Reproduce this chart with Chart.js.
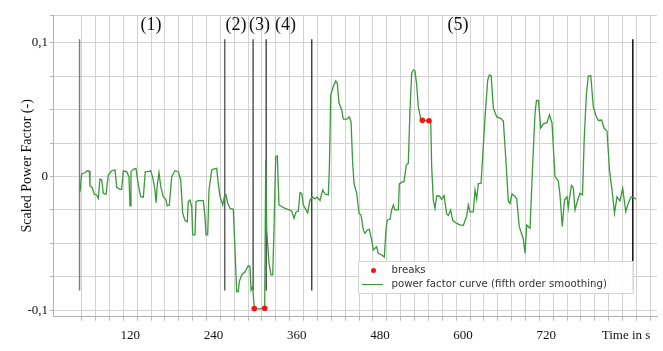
<!DOCTYPE html>
<html>
<head>
<meta charset="utf-8">
<script src="https://cdn.jsdelivr.net/npm/chart.js@4.4.1/dist/chart.umd.min.js"></script>
<style>
body { margin: 0; background: #fff; }
#wrap { position: relative; width: 663px; height: 351px; }
#legend {
    position: absolute; left: 358px; top: 261px; width: 274px; height: 31px;
    border: 1px solid #d4d4d4; background: rgba(255,255,255,0.9);
    font-family: "DejaVu Sans"; font-size: 10.2px; color: #333;
}
.row { position: absolute; left: 0; width: 100%; height: 14px; line-height: 14px; white-space: nowrap; }
.dot { position: absolute; left: 11.5px; top: 5px; width: 5px; height: 5px; border-radius: 50%; }
.line { position: absolute; left: 3px; top: 7px; width: 21px; height: 1.2px; }
.txt { position: absolute; left: 32.5px; top: 0; }
</style>
</head>
<body>
<div id="wrap">
    <canvas id="graph" width="663" height="351"></canvas>
    <div id="legend"></div>
</div>
<script>
'use strict';

// time in s and scaled power factor
let time = [47.6, 50.0, 54.8, 58.1, 61.0, 62.0, 65.3, 68.2, 71.7, 74.0,
    76.4, 78.9, 81.2, 85.1, 88.4, 93.3, 98.1, 100.5, 105.3, 107.7,
    110.0, 114.9, 118.2, 119.7, 121.1, 124.4, 128.3, 131.7, 135.1, 138.9,
    141.7, 146.1, 149.5, 152.4, 155.7, 157.2, 159.0, 161.5, 164.0, 167.7,
    171.2, 173.5, 176.4, 179.8, 184.6, 189.3, 192.8, 195.7, 199.0, 202.3,
    203.7, 206.2, 208.7, 210.1, 213.4, 214.9, 218.2, 225.4, 227.8, 229.3,
    231.7, 233.6, 237.5, 241.2, 244.7, 247.0, 249.5, 253.4, 255.7, 258.1,
    260.6, 263.9, 268.6, 271.1, 273.5, 275.8, 277.3, 280.7, 285.5, 290.3,
    292.7, 294.2, 296.6, 298.9, 306.1, 313.9, 315.4, 316.8, 320.1, 323.0,
    325.5, 327.3, 329.8, 332.1, 334.5, 343.2, 352.8, 356.2, 359.0, 362.4,
    364.8, 367.3, 369.6, 375.9, 379.2, 382.8, 386.4, 389.3, 393.7, 397.5,
    400.9, 405.6, 407.1, 409.1, 412.8, 416.3, 418.6, 421.1, 425.0, 427.3,
    432.2, 435.9, 438.4, 440.8, 442.7, 446.6, 449.9, 452.8, 456.1, 458.5,
    461.9, 464.7, 468.2, 470.5, 473.0, 475.4, 477.7, 482.6, 486.4, 488.8,
    490.7, 494.6, 497.0, 499.4, 501.8, 506.6, 508.0, 512.3, 514.8, 518.1,
    521.0, 523.4, 525.9, 528.2, 530.6, 533.1, 535.4, 538.9, 541.2, 550.8,
    553.3, 554.7, 557.0, 559.5, 561.9, 565.7, 569.1, 572.5, 576.3, 578.7,
    582.1, 585.0, 590.8, 595.5, 600.3, 605.2, 607.5, 609.9, 614.7, 617.2,
    619.6, 621.9, 625.8, 627.7, 631.6, 635.5, 637.8, 640.5, 643.6, 648.5,
    654.2, 658.0, 661.9, 665.2, 667.6, 670.5, 674.8, 677.3, 681.0, 686.8,
    689.3, 691.7, 696.5, 700.3, 703.7, 705.8, 708.7, 711.9, 715.6, 721.0,
    724.6, 728.2, 732.5, 737.3, 739.7, 743.0, 746.2, 749.8, 751.7, 753.4,
    756.3, 758.9, 761.4, 765.7, 768.6, 772.2, 774.6, 777.7, 780.5, 784.1,
    787.7, 791.3, 794.9, 799.8, 803.2, 807.5, 811.1, 815.0, 818.3, 821.9,
    826.2, 830.1, 834.6, 837.8, 842.1, 845.4, 849.3];

let powerFactor = [-0.0114, 0.0019, 0.0028, 0.0043, 0.0041, -0.0071, -0.0084, -0.0133, -0.0138, -0.0163,
    -0.0019, -0.0026, -0.0126, -0.0133, 0.0011, 0.0043, 0.0049, -0.0081, -0.0096, -0.0096,
    0.0041, 0.0036, -0.0001, -0.0220, 0.0036, 0.0054, 0.0061, -0.0064, -0.0151, -0.0155,
    0.0036, 0.0036, 0.0043, -0.0006, -0.0101, -0.0196, -0.0064, 0.0028, -0.0076, -0.0151,
    -0.0170, -0.0220, -0.0213, -0.0001, 0.0043, 0.0036, -0.0026, -0.0275, -0.0330, -0.0338,
    -0.0188, -0.0176, -0.0226, -0.0437, -0.0437, -0.0188, -0.0181, -0.0181, -0.0300, -0.0437,
    -0.0437, -0.0101, 0.0049, 0.0056, 0.0061, -0.0051, -0.0151, -0.0213, -0.0151, -0.0138,
    -0.0200, -0.0238, -0.0245, -0.0549, -0.0861, -0.0861, -0.0786, -0.0736, -0.0712, -0.0667,
    -0.0674, -0.0848, -0.0824, -0.0987, -0.0990, -0.0985, 0.0123, -0.0400, -0.0649, -0.0736,
    -0.0736, -0.0400, 0.0148, 0.0153, -0.0213, -0.0238, -0.0258, -0.0312, -0.0265, -0.0258,
    -0.0120, -0.0127, -0.0213, -0.0271, -0.0176, -0.0153, -0.0168, -0.0153, -0.0179, -0.0101,
    -0.0131, -0.0138, 0.0049, 0.0609, 0.0673, 0.0714, 0.0695, 0.0549, 0.0497, 0.0428,
    0.0428, 0.0445, 0.0410, 0.0099, -0.0051, -0.0126, -0.0275, -0.0288, -0.0400, -0.0425,
    -0.0400, -0.0395, -0.0475, -0.0549, -0.0537, -0.0525, -0.0574, -0.0587, -0.0602, -0.0400,
    -0.0325, -0.0320, -0.0250, -0.0213, -0.0250, -0.0250, -0.0056, -0.0041, -0.0039, 0.0086,
    0.0099, 0.0497, 0.0774, 0.0796, 0.0791, 0.0684, 0.0522, 0.0432, 0.0420, 0.0417,
    0.0410, 0.0073, -0.0176, -0.0238, -0.0146, -0.0146, -0.0170, -0.0142, -0.0280, -0.0291,
    -0.0250, -0.0329, -0.0351, -0.0362, -0.0366, -0.0295, -0.0213, -0.0265, -0.0265, -0.0101,
    -0.0168, -0.0054, -0.0052, 0.0099, 0.0442, 0.0721, 0.0759, 0.0751, 0.0512, 0.0445,
    0.0435, 0.0415, 0.0108, -0.0183, -0.0202, -0.0131, -0.0149, -0.0168, -0.0375, -0.0467,
    -0.0574, -0.0362, -0.0387, 0.0086, 0.0472, 0.0568, 0.0567, 0.0362, 0.0392, 0.0404,
    0.0460, 0.0400, -0.0001, -0.0034, -0.0138, -0.0374, -0.0176, -0.0153, -0.0235, -0.0161,
    -0.0067, -0.0086, -0.0250, -0.0168, -0.0126, -0.0138, 0.0273, 0.0609, 0.0751, 0.0753,
    0.0522, 0.0460, 0.0419, 0.0422, 0.0362, 0.0340, 0.0049, -0.0114, -0.0275, -0.0153,
    -0.0183, -0.0088, -0.0263, -0.0206, -0.0153, -0.0155, -0.0170];

// red break points
let breakTime = [298.9, 313.9, 541.2, 550.8];
let breakValue = [-0.0987, -0.0985, 0.0420, 0.0417];

// phase boundaries and names
let phaseTime = [46.9, 256.4, 297.3, 316.1, 381.8, 844.7];
let phaseNames = ['(1)', '(2)', '(3)', '(4)', '(5)'];
let phaseNameTime = [150, 272.5, 306.4, 343.9, 592.6];

// tick labels
let xTickValues = [120, 240, 360, 480, 600, 720, 835];
let xTickLabels = ['120', '240', '360', '480', '600', '720', 'Time in s'];
let yTickValues = [0.1, 0, -0.1];
let yTickLabels = ['0,1', '0', '-0,1'];

const X_MIN = 8.65, X_MAX = 879.6;
const Y_MIN = -0.1048, Y_MAX = 0.1207;
const PHASE_TOP = 0.1025, PHASE_BOTTOM = -0.0852;
const PHASE_LABEL_Y = 0.1129;
const phaseColors = ['#808080', '#2a2a2a', '#6a6a6a', '#505050', '#1a1a1a', '#111111'];
const phaseWidths = [1.5, 1.1, 1.7, 1.5, 1.2, 1.5];
const serif = '"Liberation Serif", "Times New Roman", serif';

let curvePoints = [];
for (let i = 0; i < time.length; i++) {
    curvePoints.push({x: time[i], y: powerFactor[i]});
}
let breakPoints = [];
for (let i = 0; i < breakTime.length; i++) {
    breakPoints.push({x: breakTime[i], y: breakValue[i]});
}
// each boundary is top, bottom, gap
let phasePoints = [];
for (let i = 0; i < phaseTime.length; i++) {
    phasePoints.push({x: phaseTime[i], y: PHASE_TOP});
    phasePoints.push({x: phaseTime[i], y: PHASE_BOTTOM});
    phasePoints.push({x: phaseTime[i], y: null});
}

const phaseLabelPlugin = {
    id: 'phaseLabel',
    afterDatasetsDraw(chart) {
        let ctx = chart.ctx;
        let y = chart.scales.y.getPixelForValue(PHASE_LABEL_Y);
        ctx.save();
        ctx.font = '18px ' + serif;
        ctx.fillStyle = '#111';
        ctx.textAlign = 'center';
        ctx.textBaseline = 'middle';
        for (let i = 0; i < phaseNames.length; i++) {
            ctx.fillText(phaseNames[i], chart.scales.x.getPixelForValue(phaseNameTime[i]), y);
        }
        ctx.restore();
    }
};

let context = document.querySelector('#graph').getContext('2d');
let chart = new Chart(context, {
    type: 'line',
    data: {
        datasets: [{
            label: 'breaks',
            data: breakPoints,
            showLine: false,
            pointRadius: 2.8,
            pointBackgroundColor: '#ff1010',
            pointBorderWidth: 0,
            order: 0
        }, {
            label: 'power factor curve (fifth order smoothing)',
            data: curvePoints,
            borderColor: '#389a38',
            borderWidth: 1.3,
            pointRadius: 0,
            order: 1
        }, {
            data: phasePoints,
            borderColor: '#222',
            borderWidth: 1.3,
            pointRadius: 0,
            spanGaps: false,
            segment: {
                borderColor: c => phaseColors[Math.floor(c.p0DataIndex / 3)],
                borderWidth: c => phaseWidths[Math.floor(c.p0DataIndex / 3)]
            },
            order: 2
        }]
    },
    options: {
        responsive: false,
        animation: false,
        devicePixelRatio: 1,
        layout: { padding: { left: 0, top: 15, right: 6, bottom: 0 } },
        plugins: { legend: { display: false }, tooltip: { enabled: false } },
        scales: {
            x: {
                type: 'linear', position: 'bottom', weight: 0,
                min: X_MIN, max: X_MAX,
                afterBuildTicks: s => {
                    let t = [];
                    for (let v = 50; v <= X_MAX; v += 20) t.push({value: v});
                    s.ticks = t;
                },
                afterFit: s => { s.height = 5; },
                ticks: { display: false },
                grid: { color: '#d2d2d2', tickColor: '#b5b5b5', tickLength: 4 },
                border: { display: true, color: '#b0b0b0' }
            },
            x2: {
                type: 'linear', position: 'bottom', weight: 1,
                min: X_MIN, max: X_MAX,
                afterBuildTicks: s => { s.ticks = xTickValues.map(v => ({value: v})); },
                afterFit: s => { s.height = 29.3; },
                ticks: {
                    autoSkip: false, maxRotation: 0, padding: 6,
                    color: '#111', font: { family: serif, size: 13 },
                    callback: v => xTickLabels[xTickValues.indexOf(v)]
                },
                grid: { display: false, drawTicks: false },
                border: { display: false }
            },
            y: {
                type: 'linear', min: Y_MIN, max: Y_MAX,
                afterBuildTicks: s => {
                    let t = [];
                    for (let k = -4; k <= 4; k++) t.push({value: Math.round(k * 25) / 1000});
                    t.push({value: Y_MAX});
                    s.ticks = t;
                },
                afterFit: s => { s.width = 53; },
                ticks: {
                    padding: 2, color: '#111', font: { family: serif, size: 13 },
                    callback: v => {
                        let i = yTickValues.findIndex(y => Math.abs(y - v) < 1e-6);
                        return i < 0 ? '' : yTickLabels[i];
                    }
                },
                grid: { color: '#d2d2d2', tickColor: '#b5b5b5', tickLength: 3 },
                border: { display: true, color: '#b0b0b0' },
                title: {
                    display: true, text: 'Scaled Power Factor (-)', color: '#111',
                    font: { family: serif, size: 14 }, padding: { top: 18.6, bottom: 0 }
                }
            }
        }
    },
    plugins: [phaseLabelPlugin]
});

// legend built from the labelled datasets
let legendHtml = '';
let row = 0;
chart.data.datasets.forEach(d => {
    if (!d.label) return;
    let mark = d.showLine === false
        ? '<span class="dot" style="background:' + d.pointBackgroundColor + '"></span>'
        : '<span class="line" style="background:' + d.borderColor + '"></span>';
    legendHtml += '<div class="row" style="top:' + (1 + row * 14.3) + 'px">' + mark +
        '<span class="txt">' + d.label + '</span></div>';
    row++;
});
document.querySelector('#legend').innerHTML = legendHtml;
</script>
</body>
</html>
